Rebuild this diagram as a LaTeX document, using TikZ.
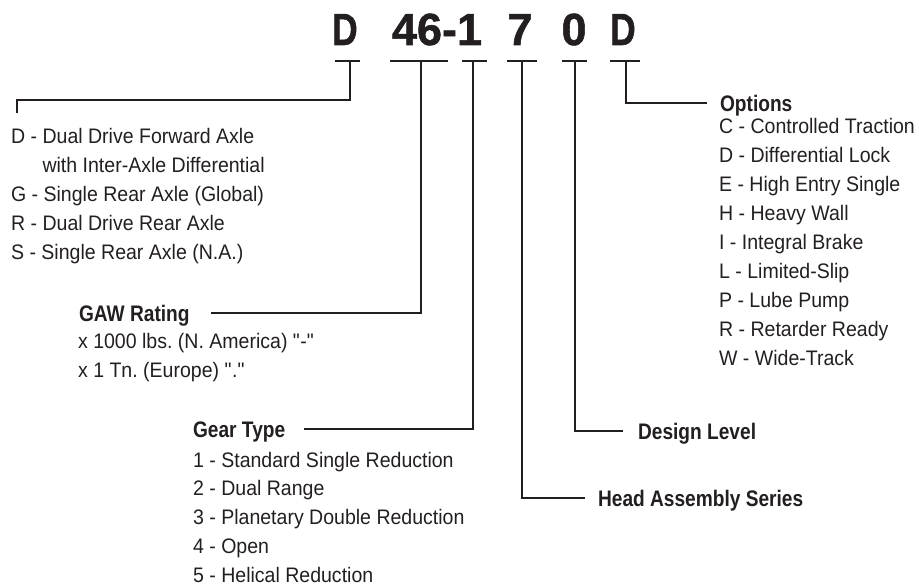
\documentclass[tikz,border=0pt]{standalone}
\usepackage{fontspec}
\setmainfont{Liberation Sans}[FakeStretch=0.93]
\newfontfamily\headfont{Liberation Sans}[FakeStretch=0.85]
\newfontfamily\codefont{Liberation Sans}[FakeBold=1.2]
\usetikzlibrary{calc}
\definecolor{ink}{HTML}{231F20}
\newcommand\straightq{\XeTeXglyph\XeTeXcharglyph"0022\relax}
\newcommand\narrowD{\scalebox{0.78}[1]{D}}

\begin{document}
\begin{tikzpicture}[x=1pt, y=-1pt, line width=2.2pt, color=ink,
    code/.style={anchor=base, inner sep=0pt, font=\codefont\bfseries\fontsize{45}{45}\selectfont},
    head/.style={anchor=base west, inner sep=0pt, text height=16pt, text depth=0pt, font=\headfont\bfseries\fontsize{22.5}{27}\selectfont},
    item/.style={anchor=base west, inner sep=0pt, font=\fontsize{21}{29}\selectfont\frenchspacing}]
\useasboundingbox (0,0) rectangle (919,586);

% --- Model code ---
\node[code] (cD)  at (345,45) {\narrowD};
\node[code] (c46) at (437,45) {46-1};
\node[code] (c7)  at (520,45) {7};
\node[code] (c0)  at (574,45) {0};
\node[code] (cO)  at (623,45) {\narrowD};

% tick under each part of the code
\foreach \a/\b/\s/\n in {335/360/350/sD, 390/448/421/s46, 462/487/473/s1,
                         507/537/522/s7, 562/587/575/s0, 610/640/626/sO}
{
    \draw (\a,61) -- (\b,61);
    \coordinate (\n) at (\s,61);
}

% --- Axle type ---
\foreach \t [count=\i] in {D - Dual Drive Forward Axle,
                           \phantom{D - }with Inter-Axle Differential,
                           G - Single Rear Axle (Global),
                           R - Dual Drive Rear Axle,
                           S - Single Rear Axle (N.A.)}
    \node[item] (ax\i) at (10,{143+29*(\i-1)}) {\t};
\coordinate (axEnd) at (17,113);
\draw (sD) |- ([yshift=13pt]axEnd) -- (axEnd);

% --- GAW rating ---
\node[head] (gaw) at (78,321) {GAW Rating};
\node[item] (gaw1) at (77,348) {x 1000 lbs. (N. America) \straightq-\straightq};
\node[item] (gaw2) at (77,377) {x 1 Tn. (Europe) \straightq.\straightq};
\draw (s46) |- ([xshift=20pt]gaw.east);

% --- Gear type ---
\node[head] (gear) at (192,437) {Gear Type};
\foreach \t [count=\i] in {1 - Standard Single Reduction,
                           2 - Dual Range,
                           3 - Planetary Double Reduction,
                           4 - Open,
                           5 - Helical Reduction}
    \node[item] (gear\i) at (192,{467+28.8*(\i-1)}) {\t};
\draw (s1) |- ([xshift=18pt]gear.east);

% --- Head assembly series / design level ---
\node[head] (series) at (597,506) {Head Assembly Series};
\draw (s7) |- ([xshift=-12pt]series.west);
\node[head] (design) at (637,439) {Design Level};
\draw (s0) |- ([xshift=-14pt]design.west);

% --- Options ---
\node[head] (opts) at (719,111) {Options};
\foreach \t [count=\i] in {C - Controlled Traction,
                           D - Differential Lock,
                           E - High Entry Single,
                           H - Heavy Wall,
                           I - Integral Brake,
                           L - Limited-Slip,
                           P - Lube Pump,
                           R - Retarder Ready,
                           W - Wide-Track}
    \node[item] (opt\i) at (718,{133+29.1*(\i-1)}) {\t};
\draw (sO) |- ([xshift=-12pt]opts.west);
\end{tikzpicture}
\end{document}
